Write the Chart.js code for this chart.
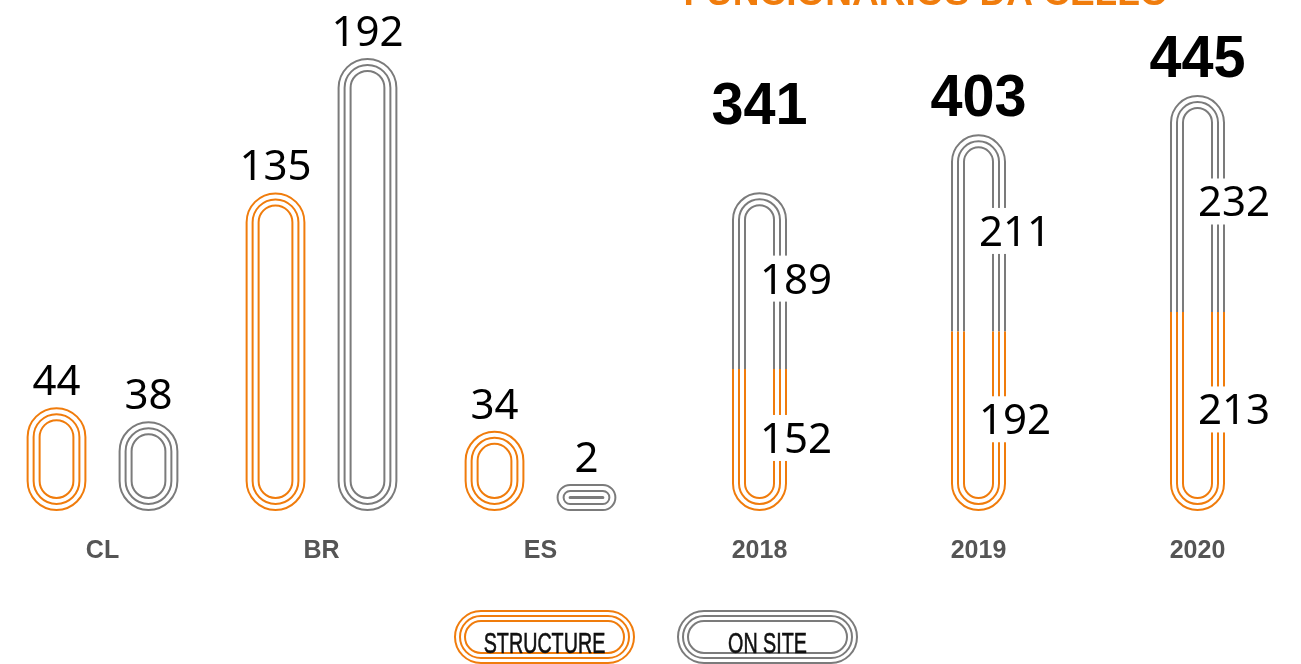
<!DOCTYPE html>
<html>
<head>
<meta charset="utf-8">
<title>Funcionários</title>
<script src="https://cdn.jsdelivr.net/npm/chart.js@4"></script>
<style>
  html, body { margin: 0; padding: 0; background: #fff; overflow: hidden; }
  #wrap { width: 1314px; height: 664px; position: relative; left: -7px; }
</style>
</head>
<body>
<div id="wrap"><canvas id="staffChart"></canvas></div>
<script>
const countries = ["CL", "BR", "ES"];
const years = ["2018", "2019", "2020"];
const structureByCountry = [44, 135, 34];
const onSiteByCountry = [38, 192, 2];
const structureByYear = [152, 192, 213];
const onSiteByYear = [189, 211, 232];
const seriesNames = ["STRUCTURE", "ON SITE"];
const chartTitle = "FUNCIONÁRIOS DA CELLO";

const ORANGE = "#f07c0c";
const GREY = "#7b7b7b";
const CLEAR = "rgba(0,0,0,0)";
const VALUE_FONT = '42px "Noto Sans", sans-serif';

const noCountry = countries.map(() => null);
const noYear = years.map(() => null);

// three concentric outlines, like a running track
function pillPath(ctx, l, t, r, b) {
  const rad = Math.max(0, Math.min((r - l) / 2, (b - t) / 2));
  ctx.beginPath();
  ctx.moveTo(l + rad, t);
  ctx.arcTo(r, t, r, b, rad);
  ctx.arcTo(r, b, l, b, rad);
  ctx.arcTo(l, b, l, t, rad);
  ctx.arcTo(l, t, r, t, rad);
  ctx.closePath();
}

function drawTrack(ctx, cx, w, top, bottom, color) {
  ctx.save();
  ctx.strokeStyle = color;
  ctx.lineWidth = 2;
  for (let k = 0; k < 3; k++) {
    const inset = 1 + 6 * k;
    let t = top + inset, b = bottom - inset;
    if (b < t) { t = b = (top + bottom) / 2; }
    pillPath(ctx, cx - w / 2 + inset, t, cx + w / 2 - inset, b);
    ctx.stroke();
  }
  ctx.restore();
}

function squeezedText(ctx, text, x, y, sx) {
  ctx.save();
  ctx.translate(x, y);
  ctx.scale(sx, 1);
  ctx.fillText(text, 0, 0);
  ctx.restore();
}

const tracksPlugin = {
  id: "tracks",
  afterDatasetsDraw(chart) {
    const ctx = chart.ctx;
    const ds = chart.data.datasets;

    // country bars, side by side
    [0, 1].forEach(di => {
      chart.getDatasetMeta(di).data.forEach((bar, i) => {
        const v = ds[di].data[i];
        if (v == null) return;
        const p = bar.getProps(["x", "y", "base", "width"], true);
        drawTrack(ctx, p.x, p.width, p.y, p.base, ds[di].trackColor);
        ctx.save();
        ctx.fillStyle = "#000";
        ctx.font = VALUE_FONT;
        ctx.textAlign = "center";
        ctx.textBaseline = "alphabetic";
        ctx.fillText(String(v), p.x, p.y - 12);
        ctx.restore();
      });
    });

    // yearly totals: one track, orange below the split, grey above
    const sMeta = chart.getDatasetMeta(2);
    const oMeta = chart.getDatasetMeta(3);
    const lift = [50, 0, 0];
    years.forEach((yr, j) => {
      const i = countries.length + j;
      const s = sMeta.data[i].getProps(["x", "y", "base", "width"], true);
      const o = oMeta.data[i].getProps(["x", "y", "base", "width"], true);
      const top = o.y, bottom = s.base, split = s.y;

      ctx.save();
      ctx.beginPath();
      ctx.rect(0, 0, chart.width, split);
      ctx.clip();
      drawTrack(ctx, s.x, s.width, top, bottom, GREY);
      ctx.restore();

      ctx.save();
      ctx.beginPath();
      ctx.rect(0, split, chart.width, chart.height - split);
      ctx.clip();
      drawTrack(ctx, s.x, s.width, top, bottom, ORANGE);
      ctx.restore();

      // segment values sit on the right rail, on a white patch
      ctx.save();
      ctx.font = VALUE_FONT;
      ctx.textAlign = "center";
      ctx.textBaseline = "middle";
      [[structureByYear[j], (s.y + s.base) / 2], [onSiteByYear[j], (o.y + o.base) / 2]].forEach(([v, ly]) => {
        const lx = s.x + s.width / 2 + 9;
        const tw = ctx.measureText(String(v)).width;
        ctx.fillStyle = "#fff";
        ctx.fillRect(lx - tw / 2 - 3, ly - 25, tw + 6, 46);
        ctx.fillStyle = "#000";
        ctx.fillText(String(v), lx, ly + 1);
      });
      ctx.restore();

      // total on top
      ctx.save();
      ctx.fillStyle = "#000";
      ctx.font = 'bold 60px "Liberation Sans", sans-serif';
      ctx.textAlign = "center";
      ctx.textBaseline = "alphabetic";
      squeezedText(ctx, String(structureByYear[j] + onSiteByYear[j]), s.x, top - 18 - lift[j], 0.96);
      ctx.restore();
    });
  },
  afterDraw(chart) {
    const ctx = chart.ctx;

    // title, pushed up against the top edge
    ctx.save();
    ctx.fillStyle = ORANGE;
    ctx.font = 'bold 37px "Liberation Sans", sans-serif';
    ctx.textAlign = "center";
    ctx.textBaseline = "alphabetic";
    ctx.fillText(chartTitle, 933, 5);
    ctx.restore();

    // legend
    const itemW = 181, itemH = 54, gap = 42;
    const startX = 663 - (itemW * 2 + gap) / 2;
    const top = 610;
    [ORANGE, GREY].forEach((c, k) => {
      const left = startX + k * (itemW + gap);
      ctx.save();
      ctx.strokeStyle = c;
      ctx.lineWidth = 2;
      for (let n = 0; n < 3; n++) {
        const inset = 1 + 5 * n;
        pillPath(ctx, left + inset, top + inset, left + itemW - inset, top + itemH - inset);
        ctx.stroke();
      }
      ctx.fillStyle = "#111";
      ctx.strokeStyle = "#111";
      ctx.lineWidth = 0.6;
      ctx.font = '29px "Liberation Sans", sans-serif';
      ctx.textAlign = "center";
      ctx.textBaseline = "alphabetic";
      ctx.translate(left + itemW / 2, top + 43);
      ctx.scale(0.68, 1);
      ctx.fillText(seriesNames[k], 0, 0);
      ctx.strokeText(seriesNames[k], 0, 0);
      ctx.restore();
    });
  }
};

new Chart(document.getElementById("staffChart"), {
  type: "bar",
  data: {
    labels: countries.concat(years),
    datasets: [
      { label: seriesNames[0], data: structureByCountry.concat(noYear), yAxisID: "y", stack: "cs",
        backgroundColor: CLEAR, borderWidth: 0, trackColor: ORANGE },
      { label: seriesNames[1], data: onSiteByCountry.concat(noYear), yAxisID: "y", stack: "co",
        backgroundColor: CLEAR, borderWidth: 0, trackColor: GREY },
      { label: seriesNames[0], data: noCountry.concat(structureByYear), yAxisID: "y2", stack: "yr",
        barPercentage: 0.299, backgroundColor: CLEAR, borderWidth: 0, trackColor: ORANGE },
      { label: seriesNames[1], data: noCountry.concat(onSiteByYear), yAxisID: "y2", stack: "yr",
        barPercentage: 0.299, backgroundColor: CLEAR, borderWidth: 0, trackColor: GREY }
    ]
  },
  options: {
    responsive: true,
    maintainAspectRatio: false,
    animation: false,
    layout: { padding: { top: 39, left: 0, right: 0, bottom: 0 } },
    datasets: {
      bar: {
        skipNull: true,
        categoryPercentage: 0.84,
        barPercentage: 0.65,
        minBarLength: 27
      }
    },
    scales: {
      x: {
        grid: { display: false, drawTicks: false },
        border: { display: false },
        ticks: {
          color: "#555",
          padding: 25,
          font: { family: '"Liberation Sans", sans-serif', size: 25, weight: "bold" }
        },
        afterFit(scale) { scale.height = 153; }
      },
      y: { display: false, min: 0, max: 200 },
      y2: { display: false, min: 0, max: 505, stacked: true }
    },
    plugins: {
      colors: { enabled: false },
      legend: { display: false },
      title: { display: false },
      tooltip: { enabled: false }
    }
  },
  plugins: [tracksPlugin]
});
</script>
</body>
</html>
